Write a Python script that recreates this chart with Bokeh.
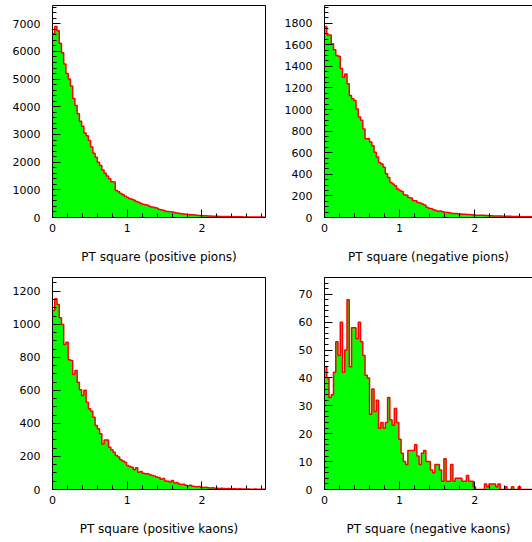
from bokeh.plotting import figure
from bokeh.layouts import row, column
from bokeh.models import Range1d, SingleIntervalTicker, FixedTicker, LinearAxis
from bokeh.embed import file_html
from bokeh.resources import INLINE

# ---------------- data (bin contents, bin width 0.03 starting at 0) ----------------
BIN_WIDTH = 0.03
N_BINS = 95

pos_pions = [6650, 6900, 6750, 6300, 5950, 5550, 5200, 5000, 4750, 4300,
             4050, 3750, 3480, 3300, 3050, 2950, 2780, 2550, 2320, 2180,
             2000, 1880, 1720, 1600, 1500, 1400, 1290, 1280, 980, 930,
             870, 820, 770, 720, 680, 660, 620, 580, 550, 510,
             480, 460, 440, 400, 380, 360, 340, 300, 280, 260,
             230, 215, 205, 195, 180, 160, 150, 140, 130, 120,
             110, 100, 95, 90, 82, 75, 70, 65, 60, 55,
             52, 48, 45, 42, 40, 38, 36, 34, 32, 30,
             28, 27, 26, 24, 23, 22, 21, 20, 18, 17,
             16, 15, 15, 14, 13]

neg_pions = [1770, 1690, 1690, 1610, 1555, 1500, 1495, 1380, 1300, 1330,
             1240, 1130, 1100, 1085, 1005, 930, 900, 820, 730, 730,
             700, 665, 605, 560, 510, 495, 465, 405, 370, 325,
             310, 295, 265, 250, 240, 210, 205, 186, 180, 158,
             155, 140, 135, 124, 115, 95, 85, 82, 72, 66,
             58, 60, 54, 48, 47, 44, 40, 38, 36, 34,
             32, 31, 30, 28, 27, 26, 24, 22, 21, 20,
             20, 19, 18, 17, 16, 15, 14, 14, 13, 12,
             12, 11, 11, 10, 10, 9, 9, 8, 8, 7,
             7, 6, 6, 6, 5]

pos_kaons = [1083, 1154, 1119, 1039, 998, 877, 891, 785, 780, 696,
             720, 649, 603, 569, 600, 528, 488, 474, 437, 387,
             367, 337, 276, 300, 300, 256, 240, 226, 206, 196,
             180, 172, 165, 145, 139, 135, 119, 131, 105, 109,
             99, 95, 95, 89, 85, 81, 75, 72, 62, 66,
             52, 50, 45, 55, 40, 42, 34, 30, 32, 25,
             22, 26, 20, 18, 16, 18, 14, 12, 14, 10,
             9, 11, 8, 8, 6, 7, 6, 5, 6, 4,
             5, 4, 3, 4, 3, 3, 2, 3, 2, 2,
             3, 1, 2, 1, 2]

neg_kaons = [44, 40, 33, 34, 42, 53, 48, 60, 42, 50,
             68, 44, 58, 58, 54, 60, 53, 48, 41, 40,
             27, 36, 28, 32, 22, 24, 22, 24, 33, 25,
             23, 29, 24, 18, 13, 10, 9, 14, 14, 14,
             16, 12, 9, 13, 14, 10, 10, 7, 6, 9,
             9, 7, 3, 11, 3, 3, 9, 3, 4, 4,
             4, 3, 3, 5, 3, 3, 1, 0, 0, 0,
             0, 2, 1, 2, 2, 2, 1, 2, 0, 0,
             1, 0, 0, 1, 0, 0, 1, 0, 0, 0,
             0, 0, 0, 0, 0]

labels = ["PT square (positive pions)", "PT square (negative pions)",
          "PT square (positive kaons)", "PT square (negative kaons)"]

edges = [round(i * BIN_WIDTH, 4) for i in range(N_BINS + 1)]

FONT = "DejaVu Sans"


def hidden_axis():
    ax = LinearAxis(ticker=FixedTicker(ticks=[]))
    ax.axis_line_color = "black"
    ax.axis_line_width = 1
    ax.major_tick_in = 0
    ax.major_tick_out = 0
    ax.minor_tick_in = 0
    ax.minor_tick_out = 0
    ax.major_label_standoff = 0
    return ax


def panel(vals, label, ymax, y_major, y_minor, xmax, width, height,
          bl, br, bt, bb, right_axis):
    p = figure(width=width, height=height, output_backend="svg",
               toolbar_location=None,
               x_range=Range1d(0, xmax), y_range=Range1d(0, ymax),
               min_border_left=bl, min_border_right=br,
               min_border_top=bt, min_border_bottom=bb)
    p.outline_line_color = None
    p.background_fill_color = "white"
    p.border_fill_color = "white"
    p.xgrid.visible = False
    p.ygrid.visible = False

    y2 = list(vals) + [vals[-1]]
    p.varea_step(x=edges, y1=[0] * len(edges), y2=y2, step_mode="after",
                 fill_color="#00ff00")
    p.step(x=edges, y=y2, mode="after", line_color="#ff0000", line_width=1.5)

    p.xaxis.ticker = SingleIntervalTicker(interval=1, num_minor_ticks=5)
    p.yaxis.ticker = SingleIntervalTicker(interval=y_major, num_minor_ticks=y_minor)
    for ax in (p.xaxis[0], p.yaxis[0]):
        ax.axis_line_color = "black"
        ax.major_tick_in = 8
        ax.major_tick_out = 0
        ax.minor_tick_in = 4
        ax.minor_tick_out = 0
        ax.major_tick_line_color = "black"
        ax.minor_tick_line_color = "black"
        ax.major_label_text_font = FONT
        ax.major_label_text_font_size = "11px"
        ax.major_label_text_color = "black"
    p.yaxis.major_label_standoff = 12
    p.xaxis.major_label_standoff = 6
    p.xaxis.axis_label = label
    p.xaxis.axis_label_text_font = FONT
    p.xaxis.axis_label_text_font_size = "12px"
    p.xaxis.axis_label_text_font_style = "normal"
    p.xaxis.axis_label_text_color = "black"
    p.xaxis.axis_label_standoff = 15

    p.add_layout(hidden_axis(), "above")
    if right_axis:
        p.add_layout(hidden_axis(), "right")
    return p


p1 = panel(pos_pions, labels[0], 7660, 1000, 5, 2.85, 266, 270, 52, 1, 5, 53, True)
p2 = panel(neg_pions, labels[1], 1964, 200, 4, 2.77, 266, 270, 58, 0, 5, 53, False)
p3 = panel(pos_kaons, labels[2], 1283, 200, 4, 2.85, 266, 272, 52, 1, 7, 53, True)
p4 = panel(neg_kaons, labels[3], 76, 10, 5, 2.77, 266, 272, 58, 0, 7, 53, False)

layout = column(row(p1, p2), row(p3, p4))

open("out.html", "w").write(file_html(layout, INLINE))
